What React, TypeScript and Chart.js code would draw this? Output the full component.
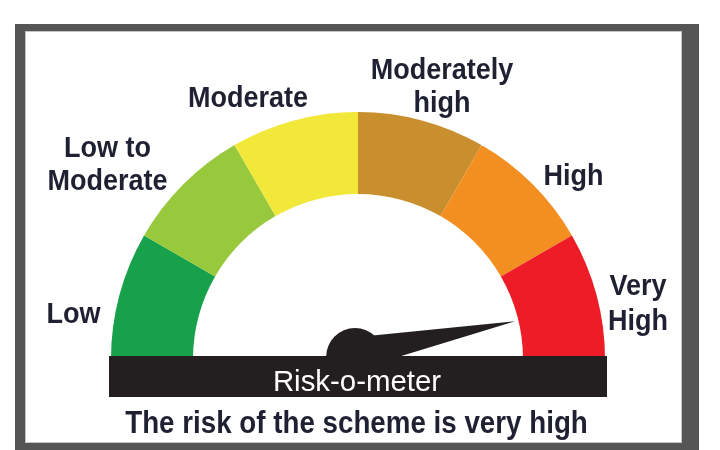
import React, { useEffect, useRef } from "react";
import { Chart, registerables } from "chart.js";

Chart.register(...registerables);

// ---- data ----
const segmentLabels = ["Low", "Low to Moderate", "Moderate", "Moderately high", "High", "Very High"];
const segmentValues = [1, 1, 1, 1, 1, 1];
const segmentColors = ["#16a14a", "#98c93d", "#f2e83a", "#c98f2e", "#f38e21", "#ed1c26"];
const labelLines = [["Low"], ["Low to", "Moderate"], ["Moderate"], ["Moderately", "high"], ["High"], ["Very", "High"]];
const riskLevelValue = 5.55; // on the 0..6 scale of the six segments
const meterTitle = "Risk-o-meter";
const riskStatement = "The risk of the scheme is very high";

// ---- layout (offsets relative to gauge centre) ----
const labelLayout = [
  { dx: -284.5, dy: -36, gap: 33 },
  { dx: -250.5, dy: -202, gap: 33 },
  { dx: -110, dy: -252, gap: 33 },
  { dx: 84, dy: -280, gap: 33 },
  { dx: 215.5, dy: -174, gap: 33 },
  { dx: 280, dy: -64, gap: 35 },
];

const FONT = '"Liberation Sans", Arial, Helvetica, sans-serif';
const TEXT_COLOR = "#1f2132";
const DARK = "#231f20";

function drawText(
  ctx: CanvasRenderingContext2D,
  text: string,
  cx: number,
  baseline: number,
  size: number,
  weight: string,
  color: string,
  scaleX: number
) {
  ctx.save();
  ctx.font = `${weight} ${size}px ${FONT}`;
  ctx.fillStyle = color;
  ctx.textAlign = "center";
  ctx.textBaseline = "alphabetic";
  ctx.translate(cx, baseline);
  ctx.scale(scaleX, 1);
  ctx.fillText(text, 0, 0);
  ctx.restore();
}

const framePlugin = {
  id: "frame",
  beforeDraw(chart: any) {
    const ctx = chart.ctx as CanvasRenderingContext2D;
    ctx.save();
    ctx.fillStyle = "#ffffff";
    ctx.fillRect(0, 0, chart.width, chart.height);
    ctx.fillStyle = "#555555";
    ctx.fillRect(15, 24, 684, 426);
    ctx.fillStyle = "#c4c4c4";
    ctx.fillRect(25, 31, 657, 412);
    ctx.fillStyle = "#ffffff";
    ctx.fillRect(26, 32, 655, 410);
    ctx.restore();
  },
};

const overlayPlugin = {
  id: "overlay",
  afterDraw(chart: any) {
    const ctx = chart.ctx as CanvasRenderingContext2D;
    const arc = chart.getDatasetMeta(0).data[0];
    if (!arc) return;
    const cx = arc.x;
    const cy = arc.y;
    const R = arc.outerRadius;

    // needle
    const total = segmentValues.reduce((a, b) => a + b, 0);
    const ang = -Math.PI + (riskLevelValue / total) * Math.PI;
    ctx.save();
    ctx.fillStyle = DARK;
    ctx.translate(cx, cy);
    ctx.beginPath();
    ctx.arc(-3, -2, R * 0.117, 0, Math.PI * 2);
    ctx.fill();
    ctx.rotate(ang);
    ctx.beginPath();
    ctx.moveTo(0, -R * 0.089);
    ctx.lineTo(R * 0.654, 0);
    ctx.lineTo(0, R * 0.04);
    ctx.closePath();
    ctx.fill();
    ctx.restore();

    // black bar
    ctx.save();
    ctx.fillStyle = DARK;
    ctx.fillRect(cx - R - 2, cy - 3, 2 * R + 4, 41);
    ctx.restore();
    drawText(ctx, meterTitle, cx - 1, cy + 32, 30, "normal", "#ffffff", 0.98);
    drawText(ctx, riskStatement, cx - 1.5, cy + 74, 31, "bold", TEXT_COLOR, 0.895);

    // segment labels
    labelLines.forEach((lines, i) => {
      const L = labelLayout[i];
      lines.forEach((line, j) => {
        drawText(ctx, line, cx + L.dx, cy + L.dy + j * L.gap, 30, "bold", TEXT_COLOR, 0.9);
      });
    });
  },
};

export default function App() {
  const ref = useRef<HTMLCanvasElement | null>(null);
  useEffect(() => {
    if (!ref.current) return;
    const chart = new Chart(ref.current, {
      type: "doughnut",
      data: {
        labels: segmentLabels,
        datasets: [
          {
            data: segmentValues,
            backgroundColor: segmentColors,
            borderWidth: 0,
          },
        ],
      },
      options: {
        responsive: true,
        maintainAspectRatio: false,
        animation: false,
        events: [],
        rotation: -90,
        circumference: 180,
        cutout: "66.8%",
        radius: 247,
        layout: { padding: { left: 111, right: 115, top: 112, bottom: 91 } },
        plugins: {
          legend: { display: false },
          tooltip: { enabled: false },
          title: { display: false },
        },
      },
      plugins: [framePlugin, overlayPlugin],
    });
    return () => chart.destroy();
  }, []);
  return (
    <div style={{ position: "fixed", left: 0, top: 0, width: 720, height: 450, background: "#fff" }}>
      <canvas ref={ref} />
    </div>
  );
}
